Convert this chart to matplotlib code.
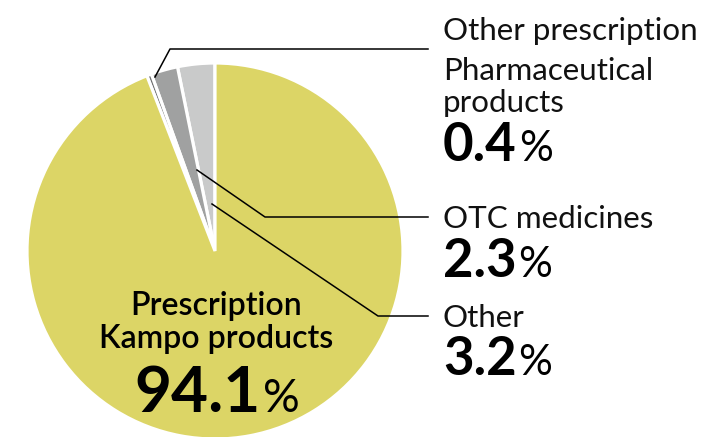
import matplotlib
matplotlib.use("Agg")
import matplotlib.pyplot as plt

W, H = 702, 437
labels = ["Other", "OTC medicines", "Other prescription\nPharmaceutical\nproducts", "Prescription\nKampo products"]
values = [3.2, 2.3, 0.4, 94.1]
colors = ["#c9caca", "#a0a1a1", "#6e6f6f", "#dcd566"]

plt.rcParams['font.family'] = ['Lato', 'DejaVu Sans']

fig = plt.figure(figsize=(W/100, H/100), dpi=100)
ax = fig.add_axes([0, 0, 1, 1])
ax.set_xlim(0, W)
ax.set_ylim(0, H)
ax.set_aspect('equal')
ax.axis('off')

def Y(y):
    return H - y

cx, cy, R = 215, 251, 188
ax.pie(values, colors=colors, startangle=90, counterclock=True,
       center=(cx, Y(cy)), radius=R,
       wedgeprops=dict(edgecolor='white', linewidth=2.3))
ax.set_xlim(0, W)
ax.set_ylim(0, H)

lk = dict(color='black', lw=1.1)
ax.plot([155, 170, 428], [Y(77), Y(49), Y(49)], **lk)
ax.plot([197, 265, 428], [Y(170), Y(217), Y(217)], **lk)
ax.plot([212, 378, 428], [Y(204), Y(316), Y(316)], **lk)

def pct(x, y, num, size, ratio=0.8, ha='left'):
    t = ax.text(x, Y(y), num, fontsize=size, fontweight='bold', ha='left', va='baseline', color='black')
    fig.canvas.draw()
    bb = t.get_window_extent()
    t2 = ax.text(bb.x1 + 2, Y(y), "%", fontsize=size*ratio, fontweight='normal', ha='left', va='baseline', color='black')
    if ha == 'center':
        fig.canvas.draw()
        bb2 = t2.get_window_extent()
        total = bb2.x1 - bb.x0
        shift = x - total/2 - bb.x0
        t.set_x(bb.x0 + shift)
        t2.set_x(bb.x1 + 2 + shift)

tx = 443
lab = dict(fontsize=22.6, fontweight='normal', va='baseline', color='#111111')
ax.text(tx, Y(40), labels[2].split("\n")[0], **lab)
ax.text(tx, Y(80), labels[2].split("\n")[1], **lab)
ax.text(tx, Y(112), labels[2].split("\n")[2], **lab)
pct(tx, 161, f"{values[2]}", 38)
ax.text(tx, Y(228), labels[1], **lab)
pct(tx, 277, f"{values[1]}", 38)
ax.text(tx, Y(327), labels[0], **lab)
pct(tx, 375, f"{values[0]}", 38)

ax.text(216, Y(315), labels[3].split("\n")[0], fontsize=23, fontweight='semibold', ha='center', va='baseline', color='black')
ax.text(216, Y(348), labels[3].split("\n")[1], fontsize=23, fontweight='semibold', ha='center', va='baseline', color='black')
pct(217, 412, f"{values[3]}", 46, ratio=0.72, ha='center')

fig.savefig("out.png", dpi=100)
